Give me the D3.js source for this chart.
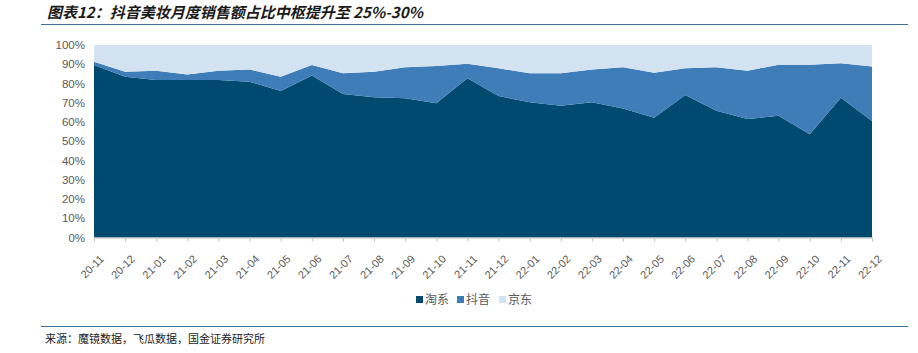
<!DOCTYPE html>
<html>
<head>
<meta charset="utf-8">
<script src="https://cdn.jsdelivr.net/npm/d3@7"></script>
<style>
  body { margin: 0; background: #fff; }
  svg { display: block; }
</style>
</head>
<body>
<svg id="chart" width="918" height="353"></svg>
<script>
// months on the x axis
const months = ['20-11','20-12','21-01','21-02','21-03','21-04','21-05','21-06','21-07','21-08','21-09','21-10','21-11','21-12',
  '22-01','22-02','22-03','22-04','22-05','22-06','22-07','22-08','22-09','22-10','22-11','22-12'];

// share of monthly beauty GMV, %
const taoxi = [89.6, 83.5, 81.8, 81.8, 81.8, 80.9, 76.1, 84.1, 74.5, 72.8, 72.3, 69.7, 82.7,
  73.5, 70.2, 68.4, 70.2, 67.0, 62.2, 74.0, 65.8, 61.5, 63.2, 53.6, 72.6, 60.5];
const douyin = [1.7, 2.6, 4.8, 2.9, 4.8, 6.4, 7.4, 5.5, 10.8, 13.3, 16.1, 19.4, 7.6,
  14.4, 15.1, 16.9, 17.1, 21.4, 23.4, 13.9, 22.6, 25.1, 26.6, 36.2, 17.9, 28.3];
const jd = taoxi.map((d, i) => +(100 - d - douyin[i]).toFixed(1));

const yTicks = [0, 10, 20, 30, 40, 50, 60, 70, 80, 90, 100];
const seriesNames = ['淘系', '抖音', '京东'];
const colors = ['#004a70', '#3f7db9', '#d3e3f2'];

const svg = d3.select('#chart');
const plotLeft = 94, plotRight = 872, plotTop = 45, plotBottom = 237.5;

const rows = months.map((m, i) => ({ month: m, '淘系': taoxi[i], '抖音': douyin[i], '京东': jd[i] }));
const stack = d3.stack().keys(seriesNames)(rows);

const x = d3.scalePoint().domain(months).range([plotLeft, plotRight]);
const y = d3.scaleLinear().domain([0, 100]).range([plotBottom, plotTop]);

const area = d3.area()
  .x(d => x(d.data.month))
  .y0(d => y(d[0]))
  .y1(d => y(d[1]));

svg.append('g')
  .selectAll('path')
  .data(stack)
  .enter().append('path')
  .attr('d', area)
  .attr('fill', (d, i) => colors[i]);

// y axis labels
svg.append('g')
  .attr('transform', `translate(${plotLeft},0)`)
  .call(d3.axisLeft(y).tickValues(yTicks).tickSize(0).tickPadding(9).tickFormat(d => d + '%'))
  .call(g => g.select('.domain').remove())
  .selectAll('text')
  .attr('fill', '#595959')
  .style('font-family', 'Liberation Sans, Arial, sans-serif')
  .style('font-size', '11.5px');

// x axis
const xAxis = svg.append('g')
  .attr('transform', `translate(0,${plotBottom})`)
  .call(d3.axisBottom(x).tickSize(4).tickPadding(6));
xAxis.select('.domain').attr('stroke', '#bfbfbf').attr('d', `M${plotLeft},0.5H${plotRight}`);
xAxis.selectAll('.tick line').attr('stroke', '#bfbfbf');
xAxis.selectAll('text')
  .attr('fill', '#595959')
  .style('font-family', 'Liberation Sans, Arial, sans-serif')
  .style('font-size', '11px')
  .attr('text-anchor', 'end')
  .attr('dy', null)
  .attr('transform', 'translate(3,15) rotate(-45)');

// title
svg.append('text')
  .attr('x', 47).attr('y', 18)
  .attr('fill', '#1a1a1a')
  .style('font-family', 'Noto Sans CJK SC, sans-serif')
  .style('font-size', '15px')
  .style('font-weight', 'bold')
  .style('font-style', 'italic')
  .text('图表12：抖音美妆月度销售额占比中枢提升至 25%-30%');

svg.append('line')
  .attr('x1', 41).attr('x2', 908).attr('y1', 24.5).attr('y2', 24.5)
  .attr('stroke', '#3d6f9c').attr('stroke-width', 1.2);

// legend
const legend = svg.append('g').attr('transform', 'translate(416,300)');
const legendX = [0, 41, 83];
seriesNames.forEach((name, i) => {
  const g = legend.append('g').attr('transform', `translate(${legendX[i]},0)`);
  g.append('rect').attr('x', 0).attr('y', -4).attr('width', 7).attr('height', 7).attr('fill', colors[i]);
  g.append('text').attr('x', 9).attr('y', 4)
    .attr('fill', '#595959')
    .style('font-family', 'Noto Sans CJK SC, sans-serif')
    .style('font-size', '12px')
    .text(name);
});

// footer
svg.append('line')
  .attr('x1', 41).attr('x2', 908).attr('y1', 326.5).attr('y2', 326.5)
  .attr('stroke', '#3d6f9c').attr('stroke-width', 1);

svg.append('text')
  .attr('x', 45).attr('y', 343)
  .attr('fill', '#1a1a1a')
  .style('font-family', 'Noto Sans CJK SC, sans-serif')
  .style('font-size', '11px')
  .text('来源：魔镜数据，飞瓜数据，国金证券研究所');
</script>
</body>
</html>
